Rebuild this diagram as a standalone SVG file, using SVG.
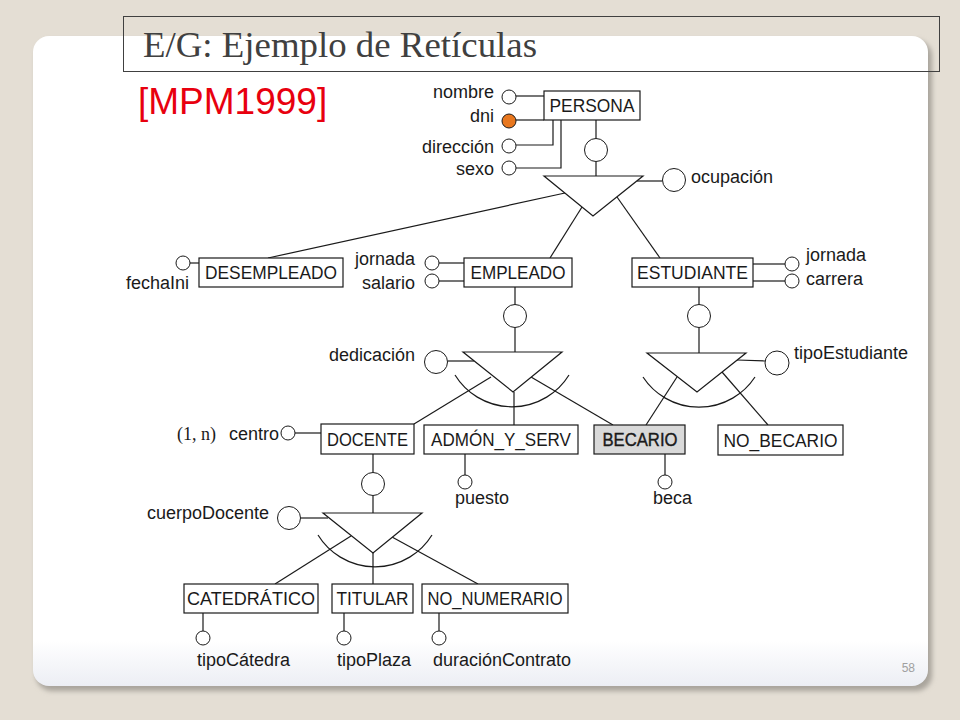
<svg xmlns="http://www.w3.org/2000/svg" width="960" height="720" viewBox="0 0 960 720">
<defs>
<style>
.ent{fill:#fff;stroke:#1a1a1a;stroke-width:1.2}
.ln{stroke:#1a1a1a;stroke-width:1.2;fill:none}
.att{fill:#fff;stroke:#1a1a1a;stroke-width:1}
.t{font-family:"Liberation Sans",Arial,sans-serif;font-size:18px;fill:#1a1a1a}
.b{font-size:18.5px}
.m{text-anchor:middle}
.e{text-anchor:end}
</style>
<filter id="sh" x="-5%" y="-5%" width="110%" height="110%">
<feGaussianBlur stdDeviation="2.5"/>
</filter>
<linearGradient id="cg" x1="0" y1="0" x2="0" y2="1">
<stop offset="0.93" stop-color="#ffffff"/>
<stop offset="1" stop-color="#eceef4"/>
</linearGradient>
</defs>
<rect x="0" y="0" width="960" height="720" fill="#e4ded4"/>
<rect x="36" y="40" width="896" height="651" rx="16" fill="#a9a49c" filter="url(#sh)"/>
<rect x="33" y="36" width="895" height="650" rx="16" fill="url(#cg)"/>
<rect x="123.5" y="16.5" width="816" height="55" fill="none" stroke="#404040" stroke-width="1"/>
<text x="143" y="57" font-family="'Liberation Serif','Times New Roman',serif" font-size="36" fill="#404040" textLength="394" lengthAdjust="spacingAndGlyphs">E/G: Ejemplo de Retículas</text>
<text x="138" y="114" font-family="'Liberation Sans',Arial,sans-serif" font-size="37" fill="#e8000f">[MPM1999]</text>
<text x="915" y="672" font-family="'Liberation Sans',Arial,sans-serif" font-size="12" fill="#a0a0a0" text-anchor="end">58</text>

<g id="connectors">
<line class="ln" x1="516" y1="96" x2="544" y2="96"/>
<line class="ln" x1="516" y1="120" x2="544" y2="120"/>
<polyline class="ln" points="516,145 553,145 553,120"/>
<polyline class="ln" points="516,168 561,168 561,120"/>
<line class="ln" x1="596" y1="120" x2="596" y2="138.5"/>
<line class="ln" x1="596" y1="161.5" x2="596" y2="176"/>
<line class="ln" x1="637" y1="181" x2="662.5" y2="181"/>
<line class="ln" x1="565" y1="193" x2="268" y2="258"/>
<line class="ln" x1="582" y1="207" x2="550" y2="258"/>
<line class="ln" x1="617" y1="197" x2="660" y2="258"/>
<line class="ln" x1="190" y1="263" x2="199" y2="263"/>
<line class="ln" x1="439" y1="263" x2="464" y2="263"/>
<line class="ln" x1="439" y1="281" x2="464" y2="281"/>
<line class="ln" x1="753" y1="264" x2="785" y2="264"/>
<line class="ln" x1="753" y1="281" x2="785" y2="281"/>
<line class="ln" x1="515" y1="287" x2="515" y2="304.5"/>
<line class="ln" x1="515" y1="327.5" x2="515" y2="352"/>
<line class="ln" x1="447.5" y1="361" x2="474" y2="361"/>
<path class="ln" d="M455,375 A67,67 0 0 0 569,375"/>
<line class="ln" x1="491" y1="377" x2="414" y2="424"/>
<line class="ln" x1="514" y1="392" x2="514" y2="425"/>
<line class="ln" x1="531" y1="377" x2="613" y2="425"/>
<line class="ln" x1="699" y1="287" x2="699" y2="304.5"/>
<line class="ln" x1="699" y1="327.5" x2="699" y2="353"/>
<line class="ln" x1="737" y1="360" x2="765" y2="361"/>
<path class="ln" d="M643,377 A67,67 0 0 0 755,377"/>
<line class="ln" x1="677" y1="377" x2="646" y2="425"/>
<line class="ln" x1="722" y1="372" x2="768" y2="425"/>
<line class="ln" x1="295" y1="433" x2="321" y2="433"/>
<line class="ln" x1="373" y1="454" x2="373" y2="472.5"/>
<line class="ln" x1="373" y1="495.5" x2="373" y2="513"/>
<line class="ln" x1="300.5" y1="518" x2="328" y2="518"/>
<path class="ln" d="M318,535 A67,67 0 0 0 432,535"/>
<line class="ln" x1="351" y1="536" x2="275" y2="584"/>
<line class="ln" x1="373" y1="553" x2="373" y2="584"/>
<line class="ln" x1="392" y1="537" x2="478" y2="584"/>
<line class="ln" x1="465" y1="454" x2="465" y2="475"/>
<line class="ln" x1="665" y1="454" x2="665" y2="475"/>
<line class="ln" x1="203" y1="613" x2="203" y2="631"/>
<line class="ln" x1="344" y1="613" x2="344" y2="631"/>
<line class="ln" x1="439" y1="613" x2="439" y2="631"/>
</g>

<g id="spec-persona"><polygon class="ent" points="544,176 643,176 593,216"/><circle class="att" cx="596" cy="150" r="11.5"/></g>
<g id="spec-empleado"><polygon class="ent" points="463,352 562,352 513,392"/><circle class="att" cx="515" cy="316" r="11.5"/></g>
<g id="spec-estudiante"><polygon class="ent" points="647,353 746,353 697,392"/><circle class="att" cx="699" cy="316" r="11.5"/></g>
<g id="spec-docente"><polygon class="ent" points="323,513 422,513 373,553"/><circle class="att" cx="373" cy="484" r="11.5"/></g>

<g id="persona">
<rect class="ent" x="544" y="91" width="96" height="29"/>
<text class="t b m" x="592" y="112" textLength="85" lengthAdjust="spacingAndGlyphs">PERSONA</text>
</g>
<g id="attr-nombre"><circle class="att" cx="509" cy="97" r="7"/><text class="t e" x="494" y="98">nombre</text></g>
<g id="attr-dni"><circle cx="509" cy="121" r="7" fill="#e8771e" stroke="#1a1a1a" stroke-width="1"/><text class="t e" x="494" y="122">dni</text></g>
<g id="attr-direccion"><circle class="att" cx="509" cy="146" r="7"/><text class="t e" x="494" y="153">dirección</text></g>
<g id="attr-sexo"><circle class="att" cx="509" cy="168" r="7"/><text class="t e" x="494" y="175">sexo</text></g>
<g id="attr-ocupacion"><circle class="att" cx="674" cy="180" r="11.5"/><text class="t" x="691" y="183">ocupación</text></g>

<g id="desempleado">
<rect class="ent" x="199" y="258" width="144" height="29"/>
<text class="t b m" x="271" y="279" textLength="132" lengthAdjust="spacingAndGlyphs">DESEMPLEADO</text>
</g>
<g id="attr-fechaIni"><circle class="att" cx="183" cy="263" r="7"/><text class="t e" x="189" y="289">fechaIni</text></g>

<g id="empleado">
<rect class="ent" x="464" y="258" width="108" height="29"/>
<text class="t b m" x="518" y="279" textLength="95" lengthAdjust="spacingAndGlyphs">EMPLEADO</text>
</g>
<g id="attr-jornada-e"><circle class="att" cx="432" cy="263" r="7"/><text class="t e" x="415" y="265">jornada</text></g>
<g id="attr-salario"><circle class="att" cx="432" cy="281" r="7"/><text class="t e" x="415" y="289">salario</text></g>

<g id="estudiante">
<rect class="ent" x="632" y="258" width="121" height="29"/>
<text class="t b m" x="692.5" y="279" textLength="111" lengthAdjust="spacingAndGlyphs">ESTUDIANTE</text>
</g>
<g id="attr-jornada-s"><circle class="att" cx="792" cy="264" r="7"/><text class="t" x="806" y="261">jornada</text></g>
<g id="attr-carrera"><circle class="att" cx="792" cy="281" r="7"/><text class="t" x="806" y="285">carrera</text></g>

<g id="attr-dedicacion"><circle class="att" cx="436" cy="362" r="11.5"/><text class="t e" x="415" y="361">dedicación</text></g>
<g id="attr-tipoEstudiante"><circle class="att" cx="777" cy="363" r="12"/><text class="t" x="794" y="359">tipoEstudiante</text></g>

<g id="docente">
<rect class="ent" x="321" y="424" width="93" height="30"/>
<text class="t b m" x="367.5" y="446" textLength="81" lengthAdjust="spacingAndGlyphs">DOCENTE</text>
</g>
<g id="attr-centro"><circle class="att" cx="288" cy="433" r="7"/>
<text x="177" y="440" font-family="'Liberation Serif','Times New Roman',serif" font-size="18" fill="#1a1a1a">(1, n)</text>
<text class="t e" x="279" y="440">centro</text></g>

<g id="admon">
<rect class="ent" x="424" y="425" width="154" height="29"/>
<text class="t b m" x="501" y="446" textLength="140" lengthAdjust="spacingAndGlyphs">ADMÓN_Y_SERV</text>
</g>
<g id="attr-puesto"><circle class="att" cx="465" cy="482" r="7"/><text class="t" x="455" y="504">puesto</text></g>

<g id="becario">
<rect class="ent" x="594" y="425" width="91" height="29" style="fill:#d9d9d9"/>
<text class="t b m" x="640" y="446" textLength="75" lengthAdjust="spacingAndGlyphs" style="stroke:#1a1a1a;stroke-width:0.4">BECARIO</text>
</g>
<g id="attr-beca"><circle class="att" cx="665" cy="482" r="7"/><text class="t" x="653" y="504">beca</text></g>

<g id="no-becario">
<rect class="ent" x="718" y="425" width="125" height="30"/>
<text class="t b m" x="780.5" y="447" textLength="114" lengthAdjust="spacingAndGlyphs">NO_BECARIO</text>
</g>

<g id="attr-cuerpoDocente"><circle class="att" cx="289" cy="518" r="11.5"/><text class="t e" x="269" y="519">cuerpoDocente</text></g>

<g id="catedratico">
<rect class="ent" x="184" y="584" width="134" height="29"/>
<text class="t b m" x="251" y="605" textLength="128" lengthAdjust="spacingAndGlyphs">CATEDRÁTICO</text>
</g>
<g id="attr-tipoCatedra"><circle class="att" cx="203" cy="638" r="7"/><text class="t" x="197" y="666">tipoCátedra</text></g>

<g id="titular">
<rect class="ent" x="332" y="584" width="81" height="29"/>
<text class="t b m" x="372.5" y="605" textLength="72" lengthAdjust="spacingAndGlyphs">TITULAR</text>
</g>
<g id="attr-tipoPlaza"><circle class="att" cx="344" cy="638" r="7"/><text class="t" x="337" y="666">tipoPlaza</text></g>

<g id="no-numerario">
<rect class="ent" x="422" y="584" width="146" height="29"/>
<text class="t b m" x="495" y="605" textLength="135" lengthAdjust="spacingAndGlyphs">NO_NUMERARIO</text>
</g>
<g id="attr-duracionContrato"><circle class="att" cx="439" cy="638" r="7"/><text class="t" x="433" y="666">duraciónContrato</text></g>
</svg>
